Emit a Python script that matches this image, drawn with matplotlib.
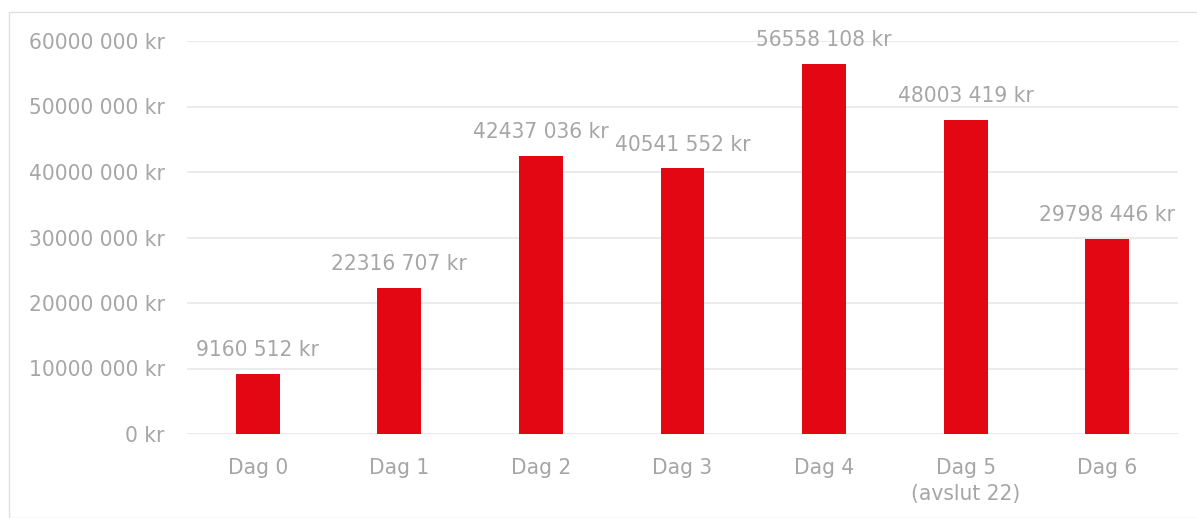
import matplotlib
matplotlib.use("Agg")
import matplotlib.pyplot as plt
from matplotlib.patches import Rectangle

categories = ["Dag 0", "Dag 1", "Dag 2", "Dag 3", "Dag 4", "Dag 5\n(avslut 22)", "Dag 6"]
values = [9160512, 22316707, 42437036, 40541552, 56558108, 48003419, 29798446]
yticks = [0, 10000000, 20000000, 30000000, 40000000, 50000000, 60000000]

BAR = "#E30613"
TXT = "#A6A6A6"
GRID = "#E9E9E9"
FS = 16.2


def fmt(v):
    v = int(round(v))
    if v >= 1000:
        return f"{v // 1000} {v % 1000:03d} kr"
    return f"{v} kr"


plt.rcParams['font.family'] = ['DejaVu Sans']
plt.rcParams['font.stretch'] = 'condensed'
fig = plt.figure(figsize=(11.97, 5.18), dpi=100)
W, H = 1197, 518
ax = fig.add_axes([187 / W, 1 - 434 / H, (1178 - 187) / W, (434 - 41) / H])

x = list(range(len(categories)))
bars = ax.bar(x, values, width=0.31, color=BAR, zorder=3)
ax.set_xlim(-0.5, len(categories) - 0.5)
ax.set_ylim(0, 60000000)
ax.set_yticks(yticks)
ax.set_yticklabels([fmt(t) for t in yticks])
ax.set_xticks(x)
ax.set_xticklabels(categories)
ax.tick_params(axis='both', length=0, labelsize=FS, colors=TXT)
ax.tick_params(axis='y', pad=16)
ax.tick_params(axis='x', pad=17)
for lbl in ax.get_xticklabels():
    lbl.set_linespacing(1.4)
ax.grid(axis='y', color=GRID, linewidth=1.3, zorder=0)
for s in ax.spines.values():
    s.set_visible(False)

for xi, v in zip(x, values):
    ax.annotate(fmt(v), (xi, v), xytext=(0, 10), textcoords='offset points',
                ha='center', va='bottom', fontsize=FS, color=TXT)

fig.patches.append(Rectangle((8.5 / W, 0), 1.2, (H - 12) / H, transform=fig.transFigure,
                             fill=False, edgecolor="#E0E0E0", linewidth=1.0))

fig.savefig("out.png", dpi=100, facecolor="white")
